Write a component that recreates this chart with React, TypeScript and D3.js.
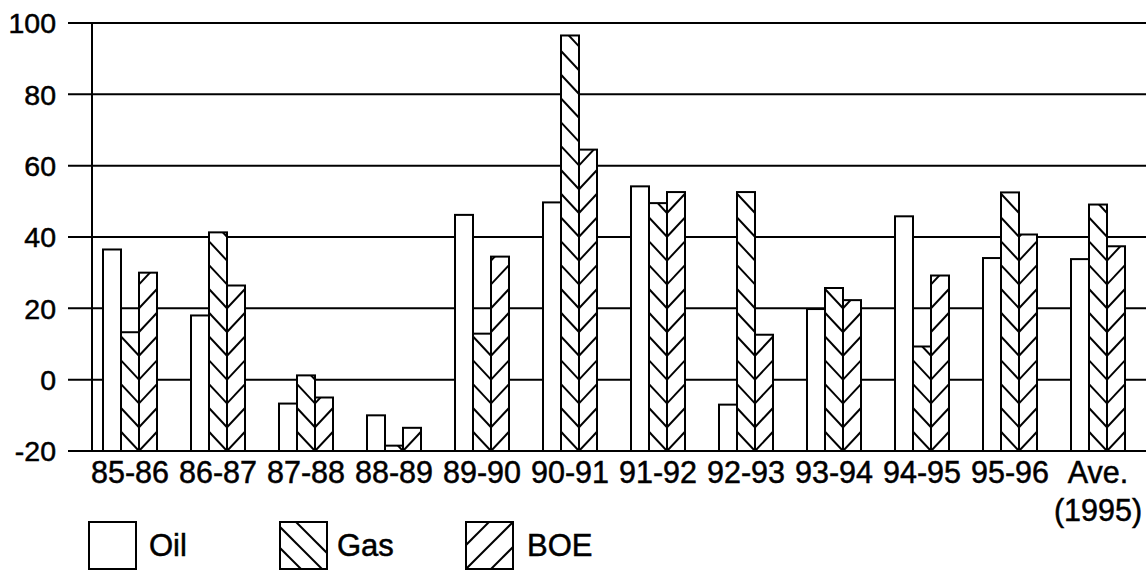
import React from "react";
import * as d3 from "d3";

const categories = ["85-86", "86-87", "87-88", "88-89", "89-90", "90-91", "91-92", "92-93", "93-94", "94-95", "95-96", "Ave."];
const categorySub = ["", "", "", "", "", "", "", "", "", "", "", "(1995)"];
const oilValues = [36.5, 18, -6.7, -10, 46.2, 49.7, 54.2, -7, 19.8, 45.8, 34.1, 33.8];
const gasValues = [13.3, 41.3, 1.2, -18.5, 12.9, 96.5, 49.5, 52.6, 25.7, 9.3, 52.5, 49.1];
const boeValues = [30, 26.4, -5, -13.5, 34.5, 64.5, 52.6, 12.6, 22.3, 29.2, 40.7, 37.4];
const seriesNames = ["Oil", "Gas", "BOE"];
const yTicks = [-20, 0, 20, 40, 60, 80, 100];

const W = 1146;
const H = 571;
const FONT = "'Liberation Sans', Arial, Helvetica, sans-serif";

export default function App() {
  const y = d3.scaleLinear().domain([-20, 100]).range([451, 23]);
  const x = d3.scalePoint<string>().domain(categories).range([130, 1098]);
  const xs = d3.scaleBand<string>().domain(seriesNames).range([-27, 27]);
  const bw = xs.bandwidth();
  const base = y(-20);
  const spacing = 23.8;
  const slope = 1.07;

  const series = [oilValues, gasValues, boeValues];

  const bars: any[] = [];
  categories.forEach((c, i) => {
    seriesNames.forEach((s, j) => {
      const v = series[j][i];
      const x0 = (x(c) as number) + (xs(s) as number);
      const yt = y(v);
      bars.push({ id: `b${i}_${j}`, s, x0, yt, w: bw });
    });
  });

  const hatch = (b: any) => {
    if (b.s === "Oil") return null;
    const lines: any[] = [];
    const d = b.w * slope;
    for (let k = 0; base - k * spacing + d > b.yt - 2; k++) {
      const yk = base - k * spacing;
      if (b.s === "Gas") {
        lines.push([b.x0, yk - d, b.x0 + b.w, yk]);
      } else {
        lines.push([b.x0, yk, b.x0 + b.w, yk - d]);
      }
    }
    return (
      <g clipPath={`url(#clip-${b.id})`}>
        {lines.map((l, k) => (
          <line key={k} x1={l[0]} y1={l[1]} x2={l[2]} y2={l[3]} stroke="#000" strokeWidth={2} />
        ))}
      </g>
    );
  };

  const legendItems = [
    { name: "Oil", bx: 89, tx: 149 },
    { name: "Gas", bx: 280, tx: 337 },
    { name: "BOE", bx: 466, tx: 527 },
  ];
  const lby = 522;
  const lbs = 47;

  const txt = { fill: "#000", stroke: "#000", strokeWidth: 0.5 };

  return (
    <svg width={W} height={H} style={{ position: "absolute", left: 0, top: 0, background: "#fff" }} fontFamily={FONT}>
      <rect x={0} y={0} width={W} height={H} fill="#fff" />
      <defs>
        {bars.map((b) => (
          <clipPath id={`clip-${b.id}`} key={b.id}>
            <rect x={b.x0} y={b.yt} width={b.w} height={base - b.yt} />
          </clipPath>
        ))}
        {legendItems.map((it) => (
          <clipPath id={`lclip-${it.name}`} key={it.name}>
            <rect x={it.bx} y={lby} width={lbs} height={lbs} />
          </clipPath>
        ))}
      </defs>
      {yTicks.map((t) => (
        <g key={t}>
          <line x1={68} x2={W} y1={y(t)} y2={y(t)} stroke="#000" strokeWidth={2} />
          <text x={56} y={y(t)} dy="0.36em" textAnchor="end" fontSize={28.5} {...txt}>
            {t}
          </text>
        </g>
      ))}
      <line x1={92} x2={92} y1={y(100)} y2={base} stroke="#000" strokeWidth={2} />
      {bars.map((b) => (
        <g key={b.id}>
          <rect x={b.x0} y={b.yt} width={b.w} height={base - b.yt} fill="#fff" />
          {hatch(b)}
          <rect x={b.x0} y={b.yt} width={b.w} height={base - b.yt} fill="none" stroke="#000" strokeWidth={2} />
        </g>
      ))}
      {categories.map((c, i) => (
        <g key={c}>
          <text x={x(c)} y={483} textAnchor="middle" fontSize={30.5} {...txt}>
            {c}
          </text>
          {categorySub[i] && (
            <text x={x(c)} y={521} textAnchor="middle" fontSize={30.5} {...txt}>
              {categorySub[i]}
            </text>
          )}
        </g>
      ))}
      {legendItems.map((it) => {
        const offs = it.name === "Gas" ? [-16, 5, 26] : it.name === "BOE" ? [23, 47, 72] : [];
        return (
          <g key={it.name}>
            <rect x={it.bx} y={lby} width={lbs} height={lbs} fill="#fff" />
            <g clipPath={`url(#lclip-${it.name})`}>
              {offs.map((b, k) =>
                it.name === "Gas" ? (
                  <line key={k} x1={it.bx - 10} y1={lby + b - 10} x2={it.bx + lbs + 10} y2={lby + b + lbs + 10} stroke="#000" strokeWidth={2} />
                ) : (
                  <line key={k} x1={it.bx - 10} y1={lby + b + 10} x2={it.bx + lbs + 10} y2={lby + b - lbs - 10} stroke="#000" strokeWidth={2} />
                )
              )}
            </g>
            <rect x={it.bx} y={lby} width={lbs} height={lbs} fill="none" stroke="#000" strokeWidth={2} />
            <text x={it.tx} y={556} fontSize={31} {...txt}>
              {it.name}
            </text>
          </g>
        );
      })}
    </svg>
  );
}
